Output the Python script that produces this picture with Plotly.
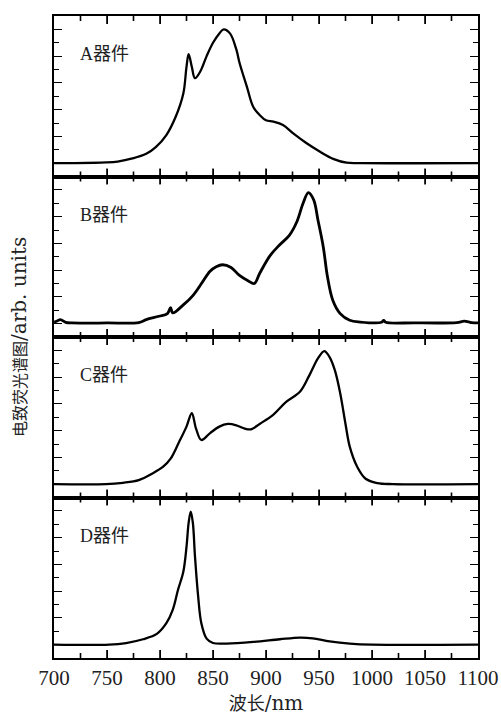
import plotly.graph_objects as go
from plotly.subplots import make_subplots

# ---- data (wavelength nm, normalised EL intensity) ----
a_wl = [700, 720, 749, 760, 774, 787, 796, 806, 815, 822, 825, 827, 830, 833, 838, 844, 850,
        856, 860, 866, 872, 875, 882, 888, 894, 900, 907, 916, 926, 938, 951, 964, 976, 990, 1100]
a_int = [0, 0, 0.005, 0.012, 0.035, 0.07, 0.12, 0.21, 0.35, 0.52, 0.72, 0.815, 0.72, 0.635, 0.685, 0.80, 0.90,
         0.97, 1.0, 0.97, 0.85, 0.75, 0.57, 0.42, 0.36, 0.32, 0.31, 0.285, 0.22, 0.15, 0.085, 0.03, 0.003, 0, 0]

b_wl = [700, 703, 706, 711, 717, 750, 780, 787, 799, 807, 810, 812, 822, 831, 840, 847, 853, 859, 867,
        875, 883, 889, 894, 904, 913, 922, 929, 935, 940, 945, 949, 954, 958, 963, 970, 979, 989,
        1009, 1011, 1013, 1040, 1080, 1087, 1094, 1100]
b_int = [0.01, 0.02, 0.03, 0.01, 0.005, 0.005, 0.008, 0.03, 0.055, 0.075, 0.12, 0.08, 0.14, 0.21, 0.31, 0.39, 0.425, 0.44, 0.42,
         0.36, 0.32, 0.30, 0.375, 0.51, 0.59, 0.66, 0.76, 0.90, 0.98, 0.925, 0.775, 0.575, 0.35, 0.175, 0.075, 0.025, 0.012,
         0.01, 0.025, 0.01, 0.006, 0.008, 0.018, 0.008, 0.006]

c_wl = [700, 749, 765, 780, 793, 803, 810, 818, 825, 830, 834, 839, 847, 856, 864, 872, 880, 886, 894,
        907, 919, 932, 941, 949, 955, 960, 965, 970, 975, 979, 986, 994, 1005, 1020, 1100]
c_int = [0, 0, 0.01, 0.03, 0.08, 0.13, 0.19, 0.315, 0.43, 0.53, 0.415, 0.33, 0.38, 0.43, 0.45, 0.44, 0.415, 0.41, 0.45,
         0.52, 0.615, 0.69, 0.815, 0.94, 0.995, 0.95, 0.85, 0.68, 0.45, 0.28, 0.13, 0.04, 0.008, 0, 0]

d_wl = [700, 752, 768, 784, 797, 806, 812, 817, 822, 825, 827, 829, 831, 833, 836, 839, 844, 850, 863,
        888, 913, 932, 944, 960, 979, 1000, 1100]
d_int = [0, 0, 0.012, 0.04, 0.08, 0.16, 0.26, 0.41, 0.545, 0.73, 0.91, 0.995, 0.91, 0.66, 0.36, 0.16, 0.045, 0.012, 0.008,
         0.02, 0.04, 0.0525, 0.0475, 0.025, 0.008, 0, 0]

series = [(a_wl, a_int, "A器件", 2.3), (b_wl, b_int, "B器件", 2.8),
          (c_wl, c_int, "C器件", 2.3), (d_wl, d_int, "D器件", 2.3)]

x_major = [750, 800, 850, 900, 950, 1000, 1050]
x_minor = [725, 775, 825, 875, 925, 975, 1025, 1075]

x_title_cjk = "波长"
x_title_latin = "/nm"
y_title_cjk = "电致荧光谱图"
y_title_latin = "/arb. units"

FONT = "'Liberation Serif', 'Noto Sans CJK SC', serif"

Y_RANGE = [-0.1, 1.1]
L, R, T, B = 54, 23, 16, 57
W, H = 501, 715
pw, ph = W - L - R, H - T - B
panel_h = ph / 4.0
units_per_px = (Y_RANGE[1] - Y_RANGE[0]) / panel_h

fig = make_subplots(rows=4, cols=1, shared_xaxes=False, vertical_spacing=0)

for i, (wl, inten, label, lw) in enumerate(series, start=1):
    fig.add_trace(go.Scatter(x=wl, y=inten, mode="lines", line=dict(color="black", width=lw),
                             line_shape="spline", showlegend=False, hoverinfo="skip"), row=i, col=1)
    # x tick marks (inside, at bottom and top of each panel), built from the tick lists
    tx, ty = [], []
    for vals, ln in ((x_major, 8), (x_minor, 5)):
        d = ln * units_per_px
        for v in vals:
            tx += [v, v, None, v, v, None]
            ty += [Y_RANGE[0], Y_RANGE[0] + d, None, Y_RANGE[1] - d, Y_RANGE[1], None]
    fig.add_trace(go.Scatter(x=tx, y=ty, mode="lines", line=dict(color="black", width=1.6),
                             showlegend=False, hoverinfo="skip", cliponaxis=False), row=i, col=1)
    yref = "y" if i == 1 else f"y{i}"
    xref = "x" if i == 1 else f"x{i}"
    fig.add_annotation(x=723.5, y=0.815, xref=xref, yref=yref, text=label, showarrow=False,
                       xanchor="left", yanchor="middle", borderpad=0,
                       font=dict(family=FONT, size=18, color="#222"))

axis_common = dict(showline=True, linecolor="black", linewidth=1.5, mirror="ticks",
                   ticks="inside", tickcolor="black", tickwidth=1.3, ticklen=8,
                   showgrid=False, zeroline=False, automargin=False)

for i in range(1, 5):
    fig.update_xaxes(range=[700, 1100], tickmode="linear", tick0=700, dtick=50,
                     showticklabels=(i == 4),
                     tickfont=dict(family=FONT, size=21, color="#222"),
                     row=i, col=1, **axis_common)
    fig.update_yaxes(range=Y_RANGE, tickmode="linear", tick0=0, dtick=0.2, showticklabels=False,
                     minor=dict(ticks="inside", dtick=0.1, tick0=0, ticklen=5,
                                tickcolor="black", tickwidth=1.3),
                     row=i, col=1, **axis_common)

x_title_html = ("<span style=\"font-family:'Noto Sans CJK SC';font-size:18px\">" + x_title_cjk + "</span>"
                "<span style=\"font-family:'DejaVu Serif';font-size:20px\">" + x_title_latin + "</span>")
fig.update_xaxes(title=dict(text=x_title_html, font=dict(family=FONT, size=18, color="#222"), standoff=8),
                 row=4, col=1)

y_title_html = ("<span style=\"font-family:'Noto Sans CJK SC';font-size:16px\">" + y_title_cjk + "</span>"
                "<span style=\"font-family:'DejaVu Serif';font-size:20px\">" + y_title_latin + "</span>")
fig.add_annotation(x=(19 - L) / pw, y=(H - B - 337) / ph, xref="paper", yref="paper",
                   text=y_title_html, showarrow=False, textangle=-90,
                   xanchor="center", yanchor="middle",
                   font=dict(family=FONT, size=17, color="#222"))

fig.update_layout(width=W, height=H, margin=dict(l=L, r=R, t=T, b=B, autoexpand=False),
                  plot_bgcolor="white", paper_bgcolor="white")

fig.write_html("out.html", config={"displayModeBar": False},
               post_script="document.body.style.margin='0px';document.body.style.overflow='hidden';")
